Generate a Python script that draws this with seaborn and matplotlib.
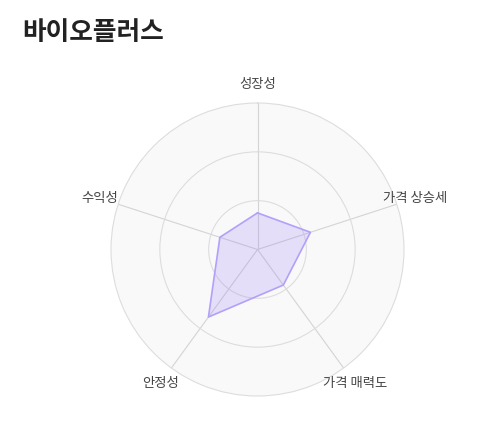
import numpy as np
import pandas as pd
import matplotlib
matplotlib.use('Agg')
import matplotlib.pyplot as plt
import seaborn as sns

sns.set_theme(style='white')
plt.rcParams['font.family'] = ['Noto Sans CJK KR', 'DejaVu Sans']

title = '바이오플러스'
categories = ['성장성', '가격 상승세', '가격 매력도', '안정성', '수익성']
values = [25, 38, 30, 57, 27]
r_max = 100
ring_levels = [100 / 3, 200 / 3]

fig = plt.figure(figsize=(4.9, 4.26), dpi=100)
ax = fig.add_axes([111 / 490, 30 / 426, 293 / 490, 293 / 426], projection='polar')
ax.set_theta_offset(np.pi / 2)
ax.set_theta_direction(-1)

theta = np.linspace(0, 2 * np.pi, len(categories), endpoint=False)
df = pd.DataFrame({'theta': np.append(theta, theta[0]),
                   'value': values + values[:1]})

ax.fill(df['theta'], df['value'], color='#9b80f6', alpha=0.22, lw=0, zorder=2)
sns.lineplot(data=df, x='theta', y='value', sort=False, estimator=None, ax=ax,
             color='#b3a0fa', linewidth=1.2, zorder=3)

ax.set_ylim(0, r_max)
ax.set_yticks(ring_levels)
ax.set_yticklabels([])
ax.set_xticks(theta)
ax.set_xticklabels([])
ax.set_xlabel('')
ax.set_ylabel('')
ax.yaxis.grid(True, color='#dddddd', lw=0.8)
ax.xaxis.grid(True, color='#d4d4d4', lw=0.8)
ax.set_facecolor('#f9f9f9')
ax.spines['polar'].set_color('#dddddd')
ax.spines['polar'].set_linewidth(0.8)

for t, c in zip(theta, categories):
    ax.text(t, r_max * 1.13, c, ha='center', va='center', fontsize=9.6,
            color='#444444', clip_on=False)

fig.text(22 / 490, 1 - 33 / 426, title, fontsize=18.5, fontweight='bold',
         ha='left', va='center', color='#222222')

fig.savefig('out.png', dpi=100, facecolor='white')
